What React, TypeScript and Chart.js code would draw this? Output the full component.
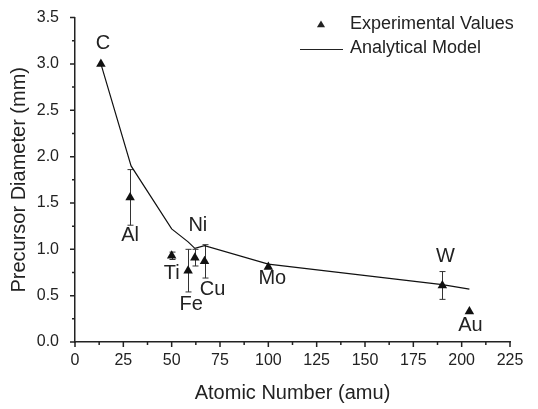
import React, { useEffect, useRef } from "react";
import { Chart, registerables } from "chart.js";

Chart.register(...registerables);

// ---- data ----
const elements = ["C", "Al", "Ti", "Fe", "Ni", "Cu", "Mo", "W", "Au"];
const expX = [13.4, 28.5, 50, 58.5, 62, 67, 100, 190, 204];
const expY = [3.0, 1.56, 0.93, 0.77, 0.91, 0.87, 0.81, 0.61, 0.33];
const expErr = [0, 0.3, 0.04, 0.23, 0.09, 0.18, 0, 0.15, 0];
const modelX = [13.4, 29, 50, 58.5, 62, 67, 100, 190, 204];
const modelY = [3.0, 1.9, 1.22, 1.08, 1.01, 1.04, 0.84, 0.62, 0.57];
const xTicks = [0, 25, 50, 75, 100, 125, 150, 175, 200, 225];
const yTicks = [0, 0.5, 1.0, 1.5, 2.0, 2.5, 3.0, 3.5];

// label placement relative to each experimental point (pixels)
const labelOffsets: [number, number][] = [
  [2, -20], [0, 38], [0, 18], [3, 34], [3, -32], [8, 28], [4, 12], [3, -29], [1, 14],
];

const FONT = "'Liberation Sans', Arial, Helvetica, sans-serif";
const INK = "#222";

const overlayPlugin = {
  id: "overlay",
  beforeDatasetsDraw(chart: any) {
    const { ctx, scales } = chart;
    const xs = scales.x, ys = scales.y;
    ctx.save();
    ctx.strokeStyle = "#333";
    ctx.lineWidth = 1;
    expX.forEach((x, i) => {
      const e = expErr[i];
      if (!e) return;
      const px = Math.round(xs.getPixelForValue(x)) + 0.5;
      const top = ys.getPixelForValue(expY[i] + e);
      const bot = ys.getPixelForValue(expY[i] - e);
      ctx.beginPath();
      ctx.moveTo(px, top);
      ctx.lineTo(px, bot);
      ctx.moveTo(px - 3, top);
      ctx.lineTo(px + 3, top);
      ctx.moveTo(px - 3, bot);
      ctx.lineTo(px + 3, bot);
      ctx.stroke();
    });
    ctx.restore();
  },
  afterDraw(chart: any) {
    const { ctx, scales, chartArea } = chart;
    const xs = scales.x, ys = scales.y;
    ctx.save();
    // ticks
    ctx.strokeStyle = INK;
    ctx.lineWidth = 1.5;
    ctx.beginPath();
    for (let i = 0; i < xTicks.length; i++) {
      const px = xs.getPixelForValue(xTicks[i]);
      ctx.moveTo(px, chartArea.bottom);
      ctx.lineTo(px, chartArea.bottom + 5);
      if (i < xTicks.length - 1) {
        const mx = xs.getPixelForValue((xTicks[i] + xTicks[i + 1]) / 2);
        ctx.moveTo(mx, chartArea.bottom);
        ctx.lineTo(mx, chartArea.bottom + 3);
      }
    }
    for (let i = 0; i < yTicks.length; i++) {
      const py = ys.getPixelForValue(yTicks[i]);
      ctx.moveTo(chartArea.left, py);
      ctx.lineTo(chartArea.left - 5, py);
      if (i < yTicks.length - 1) {
        const my = ys.getPixelForValue((yTicks[i] + yTicks[i + 1]) / 2);
        ctx.moveTo(chartArea.left, my);
        ctx.lineTo(chartArea.left - 3, my);
      }
    }
    ctx.stroke();

    // element labels
    ctx.fillStyle = INK;
    ctx.font = `20px ${FONT}`;
    ctx.textAlign = "center";
    ctx.textBaseline = "middle";
    elements.forEach((el, i) => {
      const px = xs.getPixelForValue(expX[i]);
      const py = ys.getPixelForValue(expY[i]);
      const [dx, dy] = labelOffsets[i];
      ctx.fillText(el, px + dx, py + dy);
    });

    // legend
    ctx.font = `18px ${FONT}`;
    ctx.textAlign = "left";
    ctx.textBaseline = "middle";
    const ds0 = chart.data.datasets[0];
    const ds1 = chart.data.datasets[1];
    const tx = 321, ty = 25, r = 4.5;
    ctx.beginPath();
    ctx.moveTo(tx, ty - r);
    ctx.lineTo(tx + r * 0.9, ty + r / 2);
    ctx.lineTo(tx - r * 0.9, ty + r / 2);
    ctx.closePath();
    ctx.fill();
    ctx.fillText(ds0.label, 350, 24);
    ctx.beginPath();
    ctx.lineWidth = 1.2;
    ctx.moveTo(300, 49.5);
    ctx.lineTo(343, 49.5);
    ctx.stroke();
    ctx.fillText(ds1.label, 350, 48);
    ctx.restore();
  },
};

export default function App() {
  const ref = useRef<HTMLCanvasElement>(null);
  useEffect(() => {
    if (!ref.current) return;
    const chart = new Chart(ref.current, {
      type: "scatter",
      data: {
        datasets: [
          {
            label: "Experimental Values",
            data: expX.map((x, i) => ({ x, y: expY[i] })),
            pointStyle: "triangle",
            pointRadius: 5.5,
            pointHoverRadius: 5.5,
            backgroundColor: "#111",
            borderColor: "#111",
            borderWidth: 0,
            showLine: false,
          },
          {
            label: "Analytical Model",
            data: modelX.map((x, i) => ({ x, y: modelY[i] })),
            showLine: true,
            pointRadius: 0,
            borderColor: "#111",
            borderWidth: 1.2,
            tension: 0,
          },
        ],
      },
      options: {
        animation: false,
        responsive: false,
        devicePixelRatio: 1,
        layout: { padding: { left: 0, right: 28, top: 11, bottom: 0 } },
        plugins: { legend: { display: false }, tooltip: { enabled: false } },
        scales: {
          x: {
            type: "linear",
            min: 0,
            max: 225,
            afterBuildTicks: (s: any) => { s.ticks = xTicks.map((v) => ({ value: v })); },
            afterFit: (s: any) => { s.height = 67; },
            grid: { display: false },
            border: { display: true, color: INK, width: 1.5 },
            ticks: { font: { size: 16, family: FONT }, color: INK, padding: 1, maxRotation: 0, autoSkip: false },
            title: {
              display: true,
              text: "Atomic Number (amu)",
              font: { size: 20, family: FONT },
              color: INK,
              padding: { top: 0, bottom: 4 },
            },
          },
          y: {
            type: "linear",
            min: 0,
            max: 3.5,
            afterBuildTicks: (s: any) => { s.ticks = yTicks.map((v) => ({ value: v })); },
            afterFit: (s: any) => { s.width = 75; },
            grid: { display: false },
            border: { display: true, color: INK, width: 1.5 },
            ticks: {
              font: { size: 16, family: FONT },
              color: INK,
              padding: 8,
              autoSkip: false,
              callback: (v: any) => Number(v).toFixed(1),
            },
            title: {
              display: true,
              text: "Precursor Diameter (mm)",
              font: { size: 20, family: FONT },
              color: INK,
              padding: { top: 7, bottom: 0 },
            },
          },
        },
      },
      plugins: [overlayPlugin],
    } as any);
    return () => chart.destroy();
  }, []);
  return (
    <div style={{ position: "absolute", left: 0, top: 0, width: 538, height: 409, background: "#fff" }}>
      <canvas ref={ref} width={538} height={409} style={{ display: "block" }} />
    </div>
  );
}
